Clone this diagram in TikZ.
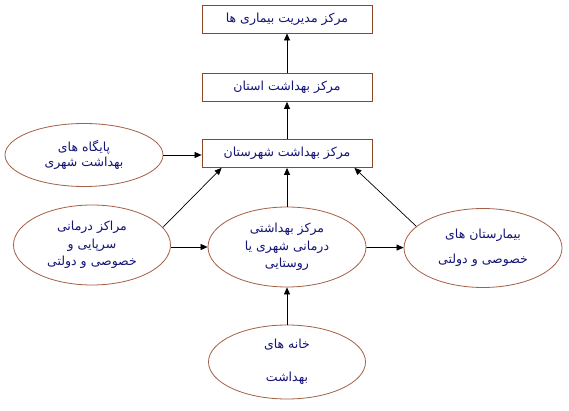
\documentclass[tikz,border=0pt]{standalone}
\usepackage{fontspec}
\usetikzlibrary{shapes.geometric,arrows.meta,calc}
\TeXXeTstate=1
\newfontfamily\arabicfont[Script=Arabic]{DejaVu Sans}
\newcommand{\fa}[1]{\beginR #1\endR}
\definecolor{boxbrown}{RGB}{140,70,40}
\definecolor{ellbrown}{RGB}{165,95,70}
\definecolor{txtblue}{RGB}{20,20,120}
\begin{document}
\begin{tikzpicture}[x=1pt,y=-1pt,
  every node/.style={font=\arabicfont\fontsize{12.5}{17.5}\selectfont, text=txtblue, align=center},
  rbox/.style={draw=boxbrown, line width=0.8pt, rectangle, minimum width=170pt, minimum height=28pt, inner sep=0pt},
  oval/.style={draw=ellbrown, line width=0.8pt, ellipse, inner sep=0pt},
  arr/.style={-{Triangle[length=7pt,width=6pt]}, line width=0.7pt, black}]
\useasboundingbox[fill=white] (0,0) rectangle (569,411);
\node[rbox] (B1) at (287,19) {\fa{مرکز مدیریت بیماری ها}};
\node[rbox] (B2) at (287,87.5) {\fa{مرکز بهداشت استان}};
\node[rbox] (B3) at (287,153.5) {\fa{مرکز بهداشت شهرستان}};
\node[oval, minimum width=158pt, minimum height=63pt, font=\arabicfont\fontsize{12.5}{15.5}\selectfont] (P) at (84,155) {\fa{پایگاه های}\\\fa{بهداشت شهری}};
\node[oval, minimum width=157pt, minimum height=80pt] (L) at (92,245) {\fa{مراکز درمانی}\\\fa{سرپایی و}\\\fa{خصوصی و دولتی}};
\node[oval, minimum width=158pt, minimum height=80pt] (M) at (287,247) {\fa{مرکز بهداشتی}\\\fa{درمانی شهری یا}\\\fa{روستایی}};
\node[oval, minimum width=158pt, minimum height=79pt] (R) at (483,248) {\fa{بیمارستان های}\\[7pt]\fa{خصوصی و دولتی}};
\node[oval, minimum width=157pt, minimum height=74pt] (H) at (287,362) {\fa{خانه های}\\[16pt]\fa{بهداشت}};
\draw[arr] (B2) -- (B1);
\draw[arr] (B3) -- (B2);
\draw[arr] (P) -- (B3.west |- P);
\draw[arr] (L.14) -- ($(B3.south west)+(20pt,0)$);
\draw[arr] (M) -- (B3);
\draw[arr] (R.162) -- ($(B3.south east)+(-18pt,0)$);
\draw[arr] (L.east |- M) -- (M);
\draw[arr] (M) -- (R);
\draw[arr] (H) -- (M);
\end{tikzpicture}
\end{document}
